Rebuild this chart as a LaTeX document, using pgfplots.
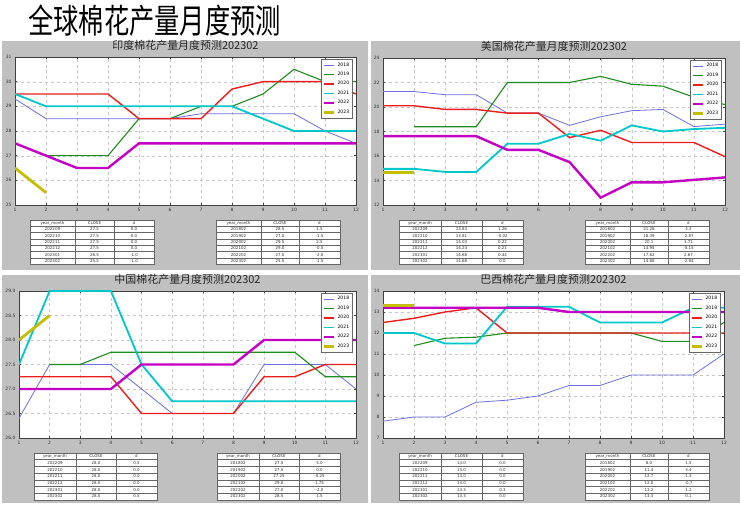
\documentclass[border=0pt]{standalone}
\usepackage{fontspec}
\setmainfont{DejaVu Sans}
\newfontfamily\cjk{Noto Sans CJK SC}
\usepackage{pgfplots}
\pgfplotsset{compat=1.18}

\definecolor{panelgray}{RGB}{192,192,192}
\definecolor{c18}{RGB}{110,110,225}
\definecolor{c19}{RGB}{30,140,30}
\definecolor{c20}{RGB}{235,30,30}
\definecolor{c21}{RGB}{0,200,200}
\definecolor{c22}{RGB}{195,0,195}
\definecolor{c23}{RGB}{195,190,0}

\pgfplotsset{
  panel/.style={
    scale only axis, anchor=south west,
    xmin=1, xmax=12, xtick={1,...,12},
    axis background/.style={fill=white},
    grid=major, grid style={dashed, black!22, line width=0.3bp},
    axis line style={black!75, line width=0.5bp},
    tick align=inside, major tick length=2bp,
    tick style={black!75, line width=0.4bp},
    ticklabel style={font=\fontsize{4.5}{5}\selectfont, text=black!80},
    /pgf/number format/assume math mode=true,
    title style={font=\cjk\fontsize{11}{12}\selectfont, text=black!85,
      at={(0.5,1)}, anchor=south, inner sep=0.5bp},
    legend style={at={(0.99,0.985)}, anchor=north east,
      font=\fontsize{4.6}{5}\selectfont, draw=black!60, line width=0.4bp,
      inner sep=1.2bp, row sep=0.6bp, fill=white},
    legend cell align=left,
    legend image code/.code={\draw[##1] (0bp,0bp) -- (10bp,0bp);},
  },
  s18/.style={c18, line width=0.8bp},
  s19/.style={c19, line width=1.1bp},
  s20/.style={c20, line width=1.4bp},
  s21/.style={c21, line width=1.8bp},
  s22/.style={c22, line width=2.4bp},
  s23/.style={c23, line width=2.8bp},
}

\tikzset{
  tblline/.style={draw=black!60, line width=0.4bp, fill=white},
  tbltext/.style={font=\fontsize{4}{4.5}\selectfont, text=black!80, inner sep=0pt},
}

% x0,x1,x2,x3 = column edges, #5 top, #6 row height, #7 rows a/b/c
\newcommand{\datatable}[7]{%
  \foreach \a/\b/\c [count=\i from 0] in {year\_month/CLOSE/d,#7}{%
    \pgfmathsetmacro{\yt}{#5-\i*#6}%
    \pgfmathsetmacro{\yb}{#5-(\i+1)*#6}%
    \draw[tblline] (#1,\yt) rectangle (#2,\yb);
    \draw[tblline] (#2,\yt) rectangle (#3,\yb);
    \draw[tblline] (#3,\yt) rectangle (#4,\yb);
    \node[tbltext] at ({(#1+#2)/2},{(\yt+\yb)/2}) {\a};
    \node[tbltext] at ({(#2+#3)/2},{(\yt+\yb)/2}) {\b};
    \node[tbltext] at ({(#3+#4)/2},{(\yt+\yb)/2}) {\c};
  }%
}

\begin{document}
\begin{tikzpicture}
\begin{scope}[x=1bp,y=1bp]
\path[use as bounding box, fill=white] (0,0) rectangle (740,505);
\fill[panelgray] (2,464) rectangle (368,235);
\fill[panelgray] (371,464) rectangle (740,235);
\fill[panelgray] (2,230) rectangle (368,2);
\fill[panelgray] (371,230) rectangle (740,2);
\node[anchor=west, inner sep=0pt, xscale=0.94, yscale=1.25,
  font=\cjk\fontsize{27}{28}\selectfont] at (28,484) {全球棉花产量月度预测};
\end{scope}

% India
\begin{axis}[panel, at={(15bp,300bp)}, width=341bp, height=148bp,
  ymin=25, ymax=31, ytick={25,...,31},
  title={印度棉花产量月度预测202302}]
\addplot[s18] coordinates {(1,29.3)(2,28.5)(3,28.5)(4,28.5)(5,28.5)(6,28.5)(7,28.7)(8,28.7)(9,28.7)(10,28.7)(11,28.0)(12,27.5)};
\addplot[s19] coordinates {(2,27.0)(3,27.0)(4,27.0)(5,28.5)(6,28.5)(7,29.0)(8,29.0)(9,29.5)(10,30.5)(11,30.0)(12,30.0)};
\addplot[s20] coordinates {(1,29.5)(2,29.5)(3,29.5)(4,29.5)(5,28.5)(6,28.5)(7,28.5)(8,29.7)(9,30.0)(10,30.0)(11,30.0)(12,29.5)};
\addplot[s21] coordinates {(1,29.5)(2,29.0)(3,29.0)(4,29.0)(5,29.0)(6,29.0)(7,29.0)(8,29.0)(9,28.5)(10,28.0)(11,28.0)(12,28.0)};
\addplot[s22] coordinates {(1,27.5)(2,27.0)(3,26.5)(4,26.5)(5,27.5)(6,27.5)(7,27.5)(8,27.5)(9,27.5)(10,27.5)(11,27.5)(12,27.5)};
\addplot[s23] coordinates {(1,26.5)(2,25.5)};
\legend{2018,2019,2020,2021,2022,2023}
\end{axis}

% USA
\begin{axis}[panel, at={(383bp,300bp)}, width=342bp, height=147bp,
  ymin=12, ymax=24, ytick={12,14,...,24},
  title={美国棉花产量月度预测202302}]
\addplot[s18] coordinates {(1,21.26)(2,21.26)(3,21.0)(4,21.0)(5,19.5)(6,19.5)(7,18.5)(8,19.2)(9,19.7)(10,19.8)(11,18.4)(12,18.6)};
\addplot[s19] coordinates {(2,18.39)(3,18.39)(4,18.39)(5,22.0)(6,22.0)(7,22.0)(8,22.5)(9,21.85)(10,21.7)(11,20.8)(12,20.2)};
\addplot[s20] coordinates {(1,20.1)(2,20.1)(3,19.8)(4,19.8)(5,19.5)(6,19.5)(7,17.5)(8,18.1)(9,17.1)(10,17.1)(11,17.1)(12,15.95)};
\addplot[s21] coordinates {(1,14.95)(2,14.95)(3,14.7)(4,14.7)(5,17.0)(6,17.0)(7,17.8)(8,17.25)(9,18.5)(10,18.0)(11,18.2)(12,18.3)};
\addplot[s22] coordinates {(1,17.62)(2,17.62)(3,17.62)(4,17.62)(5,16.5)(6,16.5)(7,15.5)(8,12.6)(9,13.85)(10,13.85)(11,14.05)(12,14.25)};
\addplot[s23] coordinates {(1,14.68)(2,14.68)};
\legend{2018,2019,2020,2021,2022,2023}
\end{axis}

% China
\begin{axis}[panel, at={(19bp,67bp)}, width=337bp, height=147bp,
  ymin=26, ymax=29, ytick={26,26.5,...,29},
  yticklabel style={/pgf/number format/.cd, fixed, fixed zerofill, precision=1},
  title={中国棉花产量月度预测202302}]
\addplot[s18] coordinates {(1,26.4)(2,27.5)(3,27.5)(4,27.5)(5,27.0)(6,26.5)(7,26.5)(8,26.5)(9,27.5)(10,27.5)(11,27.5)(12,27.0)};
\addplot[s19] coordinates {(2,27.5)(3,27.5)(4,27.75)(5,27.75)(6,27.75)(7,27.75)(8,27.75)(9,27.75)(10,27.75)(11,27.25)(12,27.25)};
\addplot[s20] coordinates {(1,27.25)(2,27.25)(3,27.25)(4,27.25)(5,26.5)(6,26.5)(7,26.5)(8,26.5)(9,27.25)(10,27.25)(11,27.5)(12,27.5)};
\addplot[s21] coordinates {(1,27.5)(2,29.0)(3,29.0)(4,29.0)(5,27.5)(6,26.75)(7,26.75)(8,26.75)(9,26.75)(10,26.75)(11,26.75)(12,26.75)};
\addplot[s22] coordinates {(1,27.0)(2,27.0)(3,27.0)(4,27.0)(5,27.5)(6,27.5)(7,27.5)(8,27.5)(9,28.0)(10,28.0)(11,28.0)(12,28.0)};
\addplot[s23] coordinates {(1,28.0)(2,28.5)};
\legend{2018,2019,2020,2021,2022,2023}
\end{axis}

% Brazil
\begin{axis}[panel, at={(383bp,67bp)}, width=341bp, height=147bp,
  ymin=7, ymax=14, ytick={7,...,14},
  title={巴西棉花产量月度预测202302}]
\addplot[s18] coordinates {(1,7.8)(2,8.0)(3,8.0)(4,8.7)(5,8.8)(6,9.0)(7,9.5)(8,9.5)(9,10.0)(10,10.0)(11,10.0)(12,11.0)};
\addplot[s19] coordinates {(2,11.4)(3,11.75)(4,11.8)(5,12.0)(6,12.0)(7,12.0)(8,12.0)(9,12.0)(10,11.6)(11,11.6)(12,12.5)};
\addplot[s20] coordinates {(1,12.5)(2,12.7)(3,13.0)(4,13.2)(5,12.0)(6,12.0)(7,12.0)(8,12.0)(9,12.0)(10,12.0)(11,12.0)(12,12.0)};
\addplot[s21] coordinates {(1,12.0)(2,12.0)(3,11.5)(4,11.5)(5,13.25)(6,13.25)(7,13.25)(8,12.5)(9,12.5)(10,12.5)(11,13.2)(12,13.2)};
\addplot[s22] coordinates {(1,13.2)(2,13.2)(3,13.2)(4,13.2)(5,13.2)(6,13.2)(7,13.0)(8,13.0)(9,13.0)(10,13.0)(11,13.0)(12,13.0)};
\addplot[s23] coordinates {(1,13.3)(2,13.3)};
\legend{2018,2019,2020,2021,2022,2023}
\end{axis}

% tables
\begin{scope}[x=1bp,y=1bp]
\datatable{30}{75}{114}{154}{285}{6.3}{202209/27.5/0.0,202210/27.5/0.0,202211/27.5/0.0,202212/27.5/0.0,202301/26.5/-1.0,202302/25.5/-1.0}
\datatable{216}{261}{299}{340}{285}{6.3}{201802/28.5/1.5,201902/27.0/-1.5,202002/29.5/2.5,202102/29.0/-0.5,202202/27.0/-2.0,202302/25.5/-1.5}
\datatable{399}{441}{482}{523}{285}{6.3}{202209/13.83/1.26,202210/13.81/-0.02,202211/14.03/0.22,202212/14.24/0.21,202301/14.68/0.44,202302/14.68/0.0}
\datatable{585}{630}{668}{709}{285}{6.3}{201802/21.26/4.3,201902/18.39/-2.87,202002/20.1/1.71,202102/14.95/-5.15,202202/17.62/2.67,202302/14.68/-2.94}
\datatable{34}{76}{116}{157}{52}{6.7}{202209/28.0/0.5,202210/28.0/0.0,202211/28.0/0.0,202212/28.0/0.0,202301/28.0/0.0,202302/28.5/0.5}
\datatable{217}{259}{299}{340}{52}{6.7}{201802/27.5/5.0,201902/27.5/0.0,202002/27.25/-0.25,202102/29.0/1.75,202202/27.0/-2.0,202302/28.5/1.5}
\datatable{399}{441}{482}{523}{52}{6.7}{202209/13.0/0.0,202210/13.0/0.0,202211/13.0/0.0,202212/13.0/0.0,202301/13.3/0.3,202302/13.3/0.0}
\datatable{585}{630}{668}{709}{52}{6.7}{201802/8.0/1.5,201902/11.4/3.4,202002/12.7/1.3,202102/12.0/-0.7,202202/13.2/1.2,202302/13.3/0.1}
\end{scope}
\end{tikzpicture}
\end{document}
